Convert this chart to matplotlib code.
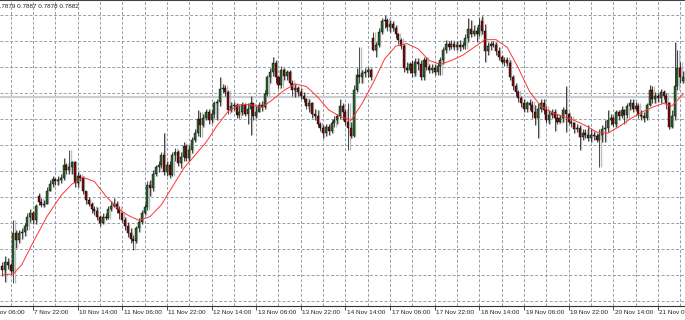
import matplotlib
matplotlib.use("Agg")
import matplotlib.pyplot as plt
import matplotlib.transforms as mtrans
import numpy as np

# H1 bars from 7 Nov 11:00 to 21 Nov 07:00 (weekends skipped)
opens = [
    0.7737, 0.7734, 0.7740, 0.7738, 0.7733, 0.7762, 0.7757, 0.7762, 0.7763, 0.7768,
    0.7775, 0.7778, 0.7772, 0.7791, 0.7786, 0.7784, 0.7785, 0.7795, 0.7800, 0.7804,
    0.7802, 0.7803, 0.7805, 0.7815, 0.7811, 0.7813, 0.7817, 0.7801, 0.7806, 0.7805,
    0.7795, 0.7788, 0.7785, 0.7781, 0.7779, 0.7775, 0.7770, 0.7775, 0.7774, 0.7781,
    0.7783, 0.7785, 0.7781, 0.7778, 0.7772, 0.7768, 0.7762, 0.7758, 0.7756, 0.7766,
    0.7771, 0.7778, 0.7782, 0.7799, 0.7797, 0.7808, 0.7813, 0.7815, 0.7822, 0.7809,
    0.7815, 0.7807, 0.7822, 0.7825, 0.7816, 0.7821, 0.7829, 0.7820, 0.7826, 0.7834,
    0.7839, 0.7850, 0.7845, 0.7851, 0.7855, 0.7849, 0.7854, 0.7862, 0.7863, 0.7873,
    0.7874, 0.7871, 0.7857, 0.7860, 0.7861, 0.7853, 0.7855, 0.7861, 0.7854, 0.7858,
    0.7862, 0.7852, 0.7855, 0.7861, 0.7859, 0.7869, 0.7882, 0.7886, 0.7893, 0.7882,
    0.7876, 0.7888, 0.7883, 0.7886, 0.7878, 0.7872, 0.7874, 0.7871, 0.7868, 0.7865,
    0.7860, 0.7862, 0.7854, 0.7852, 0.7846, 0.7843, 0.7839, 0.7844, 0.7841, 0.7847,
    0.7849, 0.7852, 0.7860, 0.7855, 0.7848, 0.7843, 0.7837, 0.7872, 0.7884, 0.7882,
    0.7885, 0.7886, 0.7888, 0.7912, 0.7903, 0.7907, 0.7917, 0.7925, 0.7926, 0.7921,
    0.7923, 0.7920, 0.7915, 0.7911, 0.7906, 0.7889, 0.7888, 0.7892, 0.7885, 0.7894,
    0.7892, 0.7882, 0.7895, 0.7890, 0.7888, 0.7889, 0.7886, 0.7891, 0.7895, 0.7903,
    0.7908, 0.7905, 0.7908, 0.7905, 0.7907, 0.7905, 0.7907, 0.7912, 0.7919, 0.7915,
    0.7918, 0.7915, 0.7925, 0.7918, 0.7902, 0.7906, 0.7908, 0.7907, 0.7902, 0.7898,
    0.7894, 0.7895, 0.7893, 0.7882, 0.7875, 0.7871, 0.7866, 0.7862, 0.7858, 0.7862,
    0.7861, 0.7855, 0.7851, 0.7858, 0.7862, 0.7857, 0.7849, 0.7853, 0.7855, 0.7851,
    0.7848, 0.7851, 0.7857, 0.7854, 0.7848, 0.7847, 0.7842, 0.7843, 0.7836, 0.7839,
    0.7838, 0.7835, 0.7838, 0.7837, 0.7834, 0.7838, 0.7842, 0.7843, 0.7849, 0.7851,
    0.7846, 0.7855, 0.7852, 0.7857, 0.7853, 0.7860, 0.7862, 0.7858, 0.7860, 0.7853,
    0.7852, 0.7851, 0.7861, 0.7872, 0.7865, 0.7868, 0.7866, 0.7871, 0.7868, 0.7862,
    0.7844, 0.7852, 0.7875, 0.7889, 0.7879,
]
highs = [
    0.7740, 0.7745, 0.7743, 0.7739, 0.7772, 0.7765, 0.7765, 0.7766, 0.7770, 0.7778,
    0.7781, 0.7779, 0.7785, 0.7793, 0.7789, 0.7788, 0.7798, 0.7803, 0.7806, 0.7805,
    0.7806, 0.7808, 0.7820, 0.7816, 0.7826, 0.7818, 0.7818, 0.7809, 0.7808, 0.7806,
    0.7795, 0.7790, 0.7786, 0.7783, 0.7782, 0.7776, 0.7778, 0.7778, 0.7783, 0.7787,
    0.7789, 0.7787, 0.7783, 0.7778, 0.7775, 0.7771, 0.7766, 0.7761, 0.7768, 0.7774,
    0.7780, 0.7785, 0.7802, 0.7803, 0.7811, 0.7815, 0.7818, 0.7825, 0.7839, 0.7818,
    0.7818, 0.7825, 0.7828, 0.7826, 0.7825, 0.7832, 0.7831, 0.7830, 0.7836, 0.7842,
    0.7857, 0.7855, 0.7854, 0.7858, 0.7858, 0.7857, 0.7864, 0.7865, 0.7882, 0.7877,
    0.7876, 0.7872, 0.7863, 0.7863, 0.7862, 0.7861, 0.7863, 0.7862, 0.7862, 0.7868,
    0.7862, 0.7860, 0.7863, 0.7864, 0.7872, 0.7884, 0.7889, 0.7898, 0.7895, 0.7883,
    0.7891, 0.7889, 0.7888, 0.7888, 0.7880, 0.7877, 0.7875, 0.7874, 0.7871, 0.7866,
    0.7865, 0.7863, 0.7858, 0.7857, 0.7848, 0.7845, 0.7846, 0.7846, 0.7849, 0.7852,
    0.7854, 0.7865, 0.7862, 0.7858, 0.7862, 0.7848, 0.7876, 0.7889, 0.7905, 0.7888,
    0.7889, 0.7890, 0.7889, 0.7917, 0.7909, 0.7920, 0.7928, 0.7930, 0.7928, 0.7926,
    0.7925, 0.7922, 0.7916, 0.7912, 0.7908, 0.7894, 0.7894, 0.7895, 0.7897, 0.7897,
    0.7895, 0.7898, 0.7898, 0.7892, 0.7892, 0.7892, 0.7894, 0.7898, 0.7905, 0.7911,
    0.7910, 0.7911, 0.7910, 0.7910, 0.7911, 0.7909, 0.7915, 0.7928, 0.7926, 0.7922,
    0.7921, 0.7928, 0.7929, 0.7923, 0.7909, 0.7910, 0.7910, 0.7909, 0.7905, 0.7899,
    0.7898, 0.7898, 0.7895, 0.7884, 0.7878, 0.7872, 0.7868, 0.7865, 0.7864, 0.7865,
    0.7864, 0.7861, 0.7862, 0.7865, 0.7865, 0.7860, 0.7857, 0.7858, 0.7858, 0.7854,
    0.7853, 0.7859, 0.7875, 0.7855, 0.7852, 0.7848, 0.7846, 0.7845, 0.7842, 0.7842,
    0.7845, 0.7842, 0.7841, 0.7839, 0.7842, 0.7845, 0.7849, 0.7857, 0.7854, 0.7852,
    0.7857, 0.7857, 0.7860, 0.7858, 0.7862, 0.7865, 0.7865, 0.7863, 0.7862, 0.7857,
    0.7855, 0.7862, 0.7876, 0.7875, 0.7871, 0.7870, 0.7873, 0.7872, 0.7870, 0.7863,
    0.7857, 0.7909, 0.7903, 0.7894, 0.7887,
]
lows = [
    0.7729, 0.7725, 0.7735, 0.7731, 0.7724, 0.7751, 0.7755, 0.7758, 0.7760, 0.7765,
    0.7771, 0.7769, 0.7769, 0.7784, 0.7782, 0.7782, 0.7785, 0.7795, 0.7798, 0.7799,
    0.7799, 0.7801, 0.7803, 0.7808, 0.7808, 0.7808, 0.7798, 0.7798, 0.7802, 0.7792,
    0.7785, 0.7783, 0.7778, 0.7776, 0.7772, 0.7768, 0.7769, 0.7772, 0.7773, 0.7779,
    0.7782, 0.7778, 0.7773, 0.7771, 0.7765, 0.7759, 0.7755, 0.7749, 0.7755, 0.7763,
    0.7769, 0.7776, 0.7780, 0.7791, 0.7795, 0.7806, 0.7809, 0.7812, 0.7807, 0.7806,
    0.7805, 0.7806, 0.7818, 0.7814, 0.7812, 0.7818, 0.7818, 0.7818, 0.7824, 0.7832,
    0.7837, 0.7836, 0.7844, 0.7849, 0.7846, 0.7847, 0.7851, 0.7849, 0.7860, 0.7870,
    0.7868, 0.7854, 0.7855, 0.7857, 0.7851, 0.7851, 0.7853, 0.7852, 0.7846, 0.7838,
    0.7849, 0.7851, 0.7855, 0.7856, 0.7858, 0.7868, 0.7878, 0.7883, 0.7878, 0.7873,
    0.7874, 0.7880, 0.7880, 0.7876, 0.7868, 0.7867, 0.7868, 0.7865, 0.7863, 0.7858,
    0.7855, 0.7851, 0.7849, 0.7844, 0.7841, 0.7835, 0.7837, 0.7838, 0.7839, 0.7844,
    0.7846, 0.7850, 0.7849, 0.7845, 0.7826, 0.7835, 0.7836, 0.7871, 0.7878, 0.7878,
    0.7882, 0.7882, 0.7880, 0.7902, 0.7898, 0.7905, 0.7915, 0.7920, 0.7918, 0.7917,
    0.7918, 0.7912, 0.7908, 0.7904, 0.7886, 0.7885, 0.7885, 0.7882, 0.7883, 0.7888,
    0.7880, 0.7880, 0.7888, 0.7885, 0.7885, 0.7884, 0.7884, 0.7884, 0.7892, 0.7901,
    0.7903, 0.7904, 0.7903, 0.7903, 0.7902, 0.7904, 0.7904, 0.7909, 0.7913, 0.7914,
    0.7909, 0.7914, 0.7915, 0.7894, 0.7899, 0.7903, 0.7905, 0.7899, 0.7895, 0.7892,
    0.7891, 0.7891, 0.7880, 0.7872, 0.7868, 0.7863, 0.7859, 0.7855, 0.7855, 0.7857,
    0.7851, 0.7845, 0.7835, 0.7855, 0.7854, 0.7847, 0.7846, 0.7851, 0.7841, 0.7846,
    0.7847, 0.7848, 0.7840, 0.7846, 0.7844, 0.7839, 0.7840, 0.7826, 0.7834, 0.7835,
    0.7833, 0.7832, 0.7834, 0.7832, 0.7813, 0.7832, 0.7832, 0.7840, 0.7845, 0.7844,
    0.7844, 0.7849, 0.7851, 0.7846, 0.7851, 0.7857, 0.7855, 0.7857, 0.7851, 0.7849,
    0.7848, 0.7849, 0.7860, 0.7862, 0.7862, 0.7863, 0.7862, 0.7865, 0.7858, 0.7842,
    0.7843, 0.7849, 0.7872, 0.7878, 0.7878,
]
closes = [
    0.7734, 0.7740, 0.7738, 0.7733, 0.7762, 0.7757, 0.7762, 0.7763, 0.7768, 0.7775,
    0.7778, 0.7772, 0.7783, 0.7786, 0.7784, 0.7785, 0.7795, 0.7800, 0.7804, 0.7802,
    0.7803, 0.7805, 0.7815, 0.7811, 0.7813, 0.7817, 0.7801, 0.7806, 0.7805, 0.7795,
    0.7788, 0.7785, 0.7781, 0.7779, 0.7775, 0.7770, 0.7775, 0.7774, 0.7781, 0.7783,
    0.7785, 0.7781, 0.7778, 0.7772, 0.7768, 0.7762, 0.7758, 0.7756, 0.7766, 0.7771,
    0.7778, 0.7782, 0.7799, 0.7797, 0.7808, 0.7813, 0.7815, 0.7822, 0.7809, 0.7815,
    0.7807, 0.7822, 0.7825, 0.7816, 0.7821, 0.7829, 0.7820, 0.7826, 0.7834, 0.7839,
    0.7850, 0.7845, 0.7851, 0.7855, 0.7849, 0.7854, 0.7862, 0.7863, 0.7873, 0.7874,
    0.7871, 0.7857, 0.7860, 0.7861, 0.7853, 0.7855, 0.7861, 0.7854, 0.7858, 0.7862,
    0.7852, 0.7855, 0.7861, 0.7859, 0.7869, 0.7882, 0.7886, 0.7893, 0.7882, 0.7876,
    0.7888, 0.7883, 0.7886, 0.7878, 0.7872, 0.7874, 0.7871, 0.7868, 0.7865, 0.7860,
    0.7862, 0.7854, 0.7852, 0.7846, 0.7843, 0.7839, 0.7844, 0.7841, 0.7847, 0.7849,
    0.7852, 0.7860, 0.7855, 0.7848, 0.7843, 0.7837, 0.7872, 0.7884, 0.7882, 0.7885,
    0.7886, 0.7888, 0.7882, 0.7903, 0.7907, 0.7917, 0.7925, 0.7926, 0.7921, 0.7923,
    0.7920, 0.7915, 0.7911, 0.7906, 0.7889, 0.7888, 0.7892, 0.7885, 0.7894, 0.7892,
    0.7882, 0.7895, 0.7890, 0.7888, 0.7889, 0.7886, 0.7891, 0.7895, 0.7903, 0.7908,
    0.7905, 0.7908, 0.7905, 0.7907, 0.7905, 0.7907, 0.7912, 0.7919, 0.7915, 0.7918,
    0.7915, 0.7922, 0.7918, 0.7902, 0.7906, 0.7908, 0.7907, 0.7902, 0.7898, 0.7894,
    0.7895, 0.7893, 0.7882, 0.7875, 0.7871, 0.7866, 0.7862, 0.7858, 0.7862, 0.7861,
    0.7855, 0.7851, 0.7858, 0.7862, 0.7857, 0.7849, 0.7853, 0.7855, 0.7851, 0.7848,
    0.7851, 0.7857, 0.7854, 0.7848, 0.7847, 0.7842, 0.7843, 0.7836, 0.7839, 0.7838,
    0.7835, 0.7838, 0.7837, 0.7834, 0.7838, 0.7842, 0.7843, 0.7849, 0.7851, 0.7846,
    0.7855, 0.7852, 0.7857, 0.7853, 0.7860, 0.7862, 0.7858, 0.7860, 0.7853, 0.7852,
    0.7851, 0.7861, 0.7872, 0.7865, 0.7868, 0.7866, 0.7871, 0.7868, 0.7862, 0.7844,
    0.7852, 0.7875, 0.7889, 0.7882, 0.7882,
]

# moving average at these bars
ma_bars = [0, 4, 7, 11, 16, 21, 25, 29, 33, 37, 41, 45, 49, 53, 57, 61, 65, 69, 73, 77,
           81, 85, 89, 93, 97, 101, 105, 109, 113, 117, 121, 125, 129, 133, 137, 141, 145,
           149, 153, 157, 161, 165, 169, 173, 177, 181, 185, 189, 193, 197, 201, 205, 209,
           213, 217, 221, 225, 229, 233, 237, 240, 244]
ma_vals = [0.7730, 0.7731, 0.7738, 0.7755, 0.7775, 0.7791, 0.7800, 0.7805, 0.7802, 0.7791,
           0.7782, 0.7776, 0.7772, 0.7775, 0.7784, 0.7798, 0.7812, 0.7822, 0.7832, 0.7845,
           0.7856, 0.7861, 0.7861, 0.7859, 0.7865, 0.7872, 0.7877, 0.7875, 0.7867, 0.7857,
           0.7852, 0.7849, 0.7862, 0.7878, 0.7896, 0.7906, 0.7908, 0.7904, 0.7895, 0.7892,
           0.7895, 0.7899, 0.7905, 0.7911, 0.7911, 0.7905, 0.7889, 0.7871, 0.7860, 0.7855,
           0.7852, 0.7849, 0.7845, 0.7840, 0.7839, 0.7844, 0.7850, 0.7855, 0.7859, 0.7862,
           0.7860, 0.7869]

# one label every 16 bars, first one at bar -5
time_labels = ["7 Nov 06:00", "7 Nov 22:00", "10 Nov 14:00", "11 Nov 06:00", "11 Nov 22:00",
               "12 Nov 14:00", "13 Nov 06:00", "13 Nov 22:00", "14 Nov 14:00", "17 Nov 06:00",
               "17 Nov 22:00", "18 Nov 14:00", "19 Nov 06:00", "19 Nov 22:00", "20 Nov 14:00",
               "21 Nov 06:00"]
bid_price = 0.7867

o = np.array(opens)
h = np.array(highs)
l = np.array(lows)
c = np.array(closes)
x = np.arange(len(c))

plt.rcParams["font.family"] = ["Liberation Sans", "DejaVu Sans"]
fig = plt.figure(figsize=(6.85, 3.2), dpi=100)
ax = fig.add_axes([0, 14 / 320, 1, 306 / 320])

grid_kw = dict(color="#949eac", lw=0.7, ls=(0, (3, 2)), zorder=0)
for p in np.arange(0.7710, 0.7935, 0.0020):
    ax.axhline(p, **grid_kw)
for b in range(3, len(c), 8):
    ax.axvline(b, **grid_kw)

ax.axhline(bid_price, color="#c9ced3", lw=1.6, zorder=1)

# candles
up = c >= o
body_col = np.where(up, "#2b6b2b", "#7d0c0c")
ax.vlines(x + 0.45, l, h, color="#bdbdbd", lw=1.0, zorder=1)
ax.vlines(x, l, h, color="black", lw=0.5, zorder=2)
ax.bar(x, np.maximum(np.abs(c - o), 0.00004), bottom=np.minimum(o, c), width=0.72,
       color=body_col, edgecolor="black", linewidth=0.3, zorder=3)

ax.plot(ma_bars, ma_vals, color="#ff3333", lw=0.7, zorder=4)

label_bars = np.arange(len(time_labels)) * 16 - 5
ax.set_xticks(label_bars)
ax.set_xticklabels([])
ax.set_yticks([])
ax.tick_params(axis="x", length=3, width=0.6, color="#333333", direction="out")
# limits after the ticks, set_xticks would widen them
ax.set_xlim(-0.82, 244.7)
ax.set_ylim(0.77062, 0.79415)
for s in ["left", "right"]:
    ax.spines[s].set_visible(False)
ax.spines["top"].set_color("#444444")
ax.spines["bottom"].set_color("#333333")
ax.spines["bottom"].set_linewidth(0.8)

lab_trans = ax.get_xaxis_transform() + mtrans.ScaledTranslation(0.015, -0.06, fig.dpi_scale_trans)
for b, t in zip(label_bars, time_labels):
    ax.text(b, 0, t, transform=lab_trans, ha="left", va="center", fontsize=4.6, color="#222222",
            clip_on=False)

fig.text(-3.6 / 685, 1 - 6 / 320, f"{o[-1]:.4f} {h[-1]:.4f} {l[-1]:.4f} {c[-1]:.4f}",
         ha="left", va="center", fontsize=4.6, color="#222222")

fig.savefig("out.png", dpi=100, facecolor="white")
